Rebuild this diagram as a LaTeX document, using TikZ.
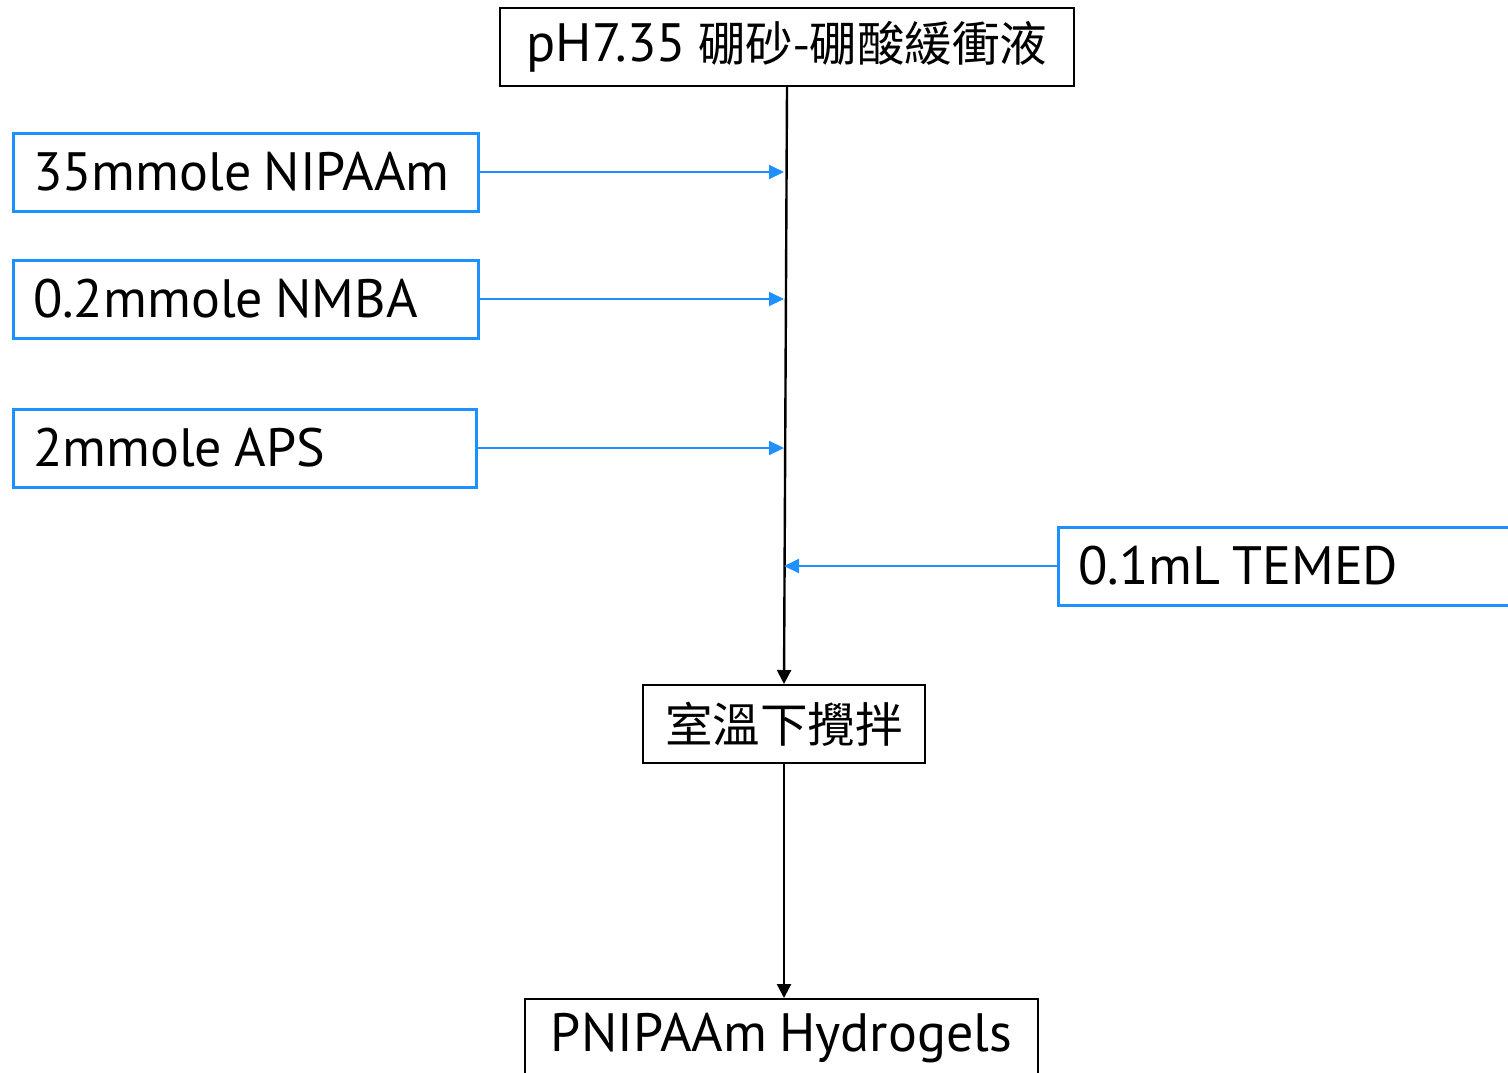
\documentclass[tikz,border=0pt]{standalone}
\usepackage{fontspec}
\setmainfont{PT Sans}[WordSpace=0.85]
\newfontfamily\cjk{Noto Sans CJK TC}[Scale=0.88]
\usetikzlibrary{arrows.meta}
\definecolor{flowblue}{RGB}{30,144,255}

\begin{document}
\begin{tikzpicture}[x=0.5pt, y=-0.5pt,
				   every node/.style={font=\fontsize{27}{32}\selectfont, inner sep=0pt, minimum height=39pt},
				   stepbox/.style={draw=black, line width=1pt, align=center},
				   reagent/.style={draw=flowblue, line width=1.5pt, inner xsep=10pt, text width=#1, align=flush left},
				   main/.style={-{Triangle[length=7pt, width=7pt]}, line width=1.2pt},
				   feed/.style={-{Triangle[length=7.5pt, width=7pt]}, flowblue, line width=1pt}]
\useasboundingbox (0,0) rectangle (1508,1072);
\clip (0,0) rectangle (1508,1072);
\node[stepbox, minimum width=287pt] (buffer) at (787,47) {pH7.35 {\cjk 硼砂-硼酸緩衝液}};
\node[reagent=212.5pt] (nipaam) at (245.5,172) {35mmole NIPAAm};
\node[reagent=212.5pt] (nmba) at (245.5,299) {0.2mmole NMBA};
\node[reagent=211.5pt] (aps) at (244.5,448) {2mmole APS};
\node[reagent=230pt] (temed) at (1308,566) {0.1mL TEMED};
\node[stepbox, minimum width=141pt] (stir) at (784,724) {\cjk 室溫下攪拌};
\node[stepbox, minimum width=256.5pt] (gel) at (781.5,1038) {PNIPAAm Hydrogels};

\draw[main] (buffer.south) -- (stir.north);
\draw[main] (stir.south) -- (stir.south |- gel.north);

\draw[feed] (nipaam.east) -- (nipaam.east -| stir.north);
\draw[feed] (nmba.east) -- (nmba.east -| stir.north);
\draw[feed] (aps.east) -- (aps.east -| stir.north);
\draw[feed] (temed.west) -- (temed.west -| stir.north);
\end{tikzpicture}
\end{document}
